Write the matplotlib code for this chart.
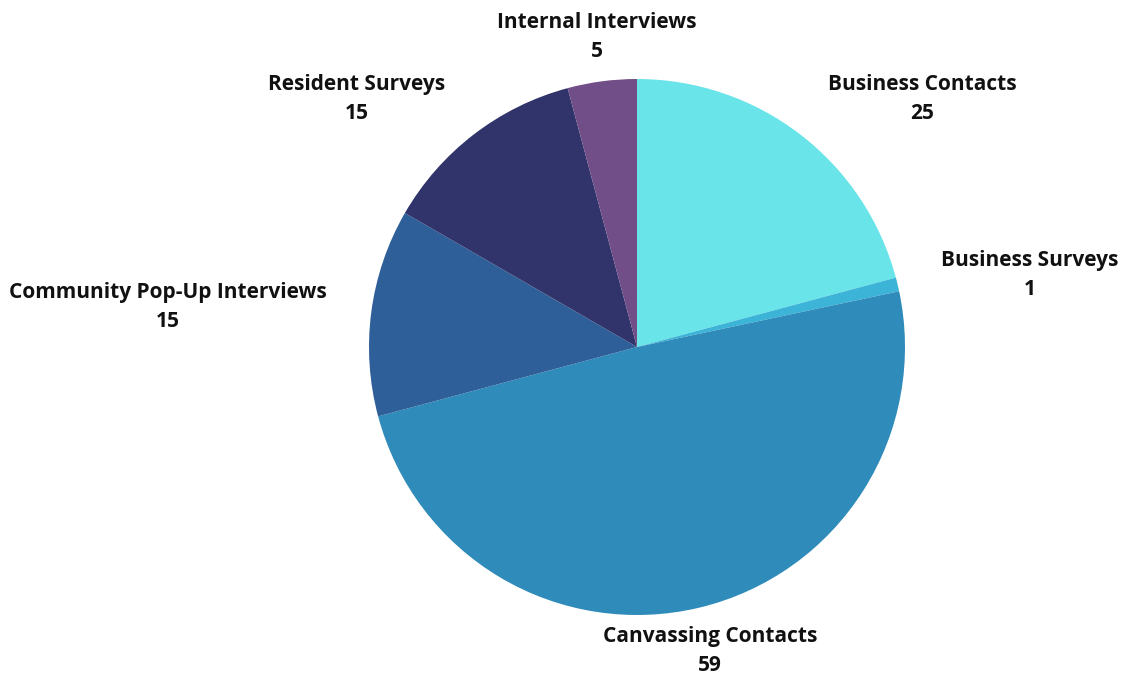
import matplotlib.pyplot as plt

labels = ['Business Contacts', 'Business Surveys', 'Canvassing Contacts',
          'Community Pop-Up Interviews', 'Resident Surveys', 'Internal Interviews']
values = [25, 1, 59, 15, 15, 5]
colors = ['#69e4e8', '#3bb4d8', '#2e8bba', '#2e5f98', '#31346b', '#714e87']

# label centres in pixels (x, y from top) of the 1122x673 canvas
label_pos = [(922, 99), (1030, 275), (710, 651), (168, 307), (357, 99), (597, 37)]

W, H = 1122, 673
cx, cy, R = 637, 347, 268

fig = plt.figure(figsize=(W / 100, H / 100), dpi=100)
ax = fig.add_axes([0, 0, 1, 1])
ax.pie(values, colors=colors, startangle=90, counterclock=False, radius=1,
       wedgeprops=dict(linewidth=0))
ax.set_xlim(-cx / R, (W - cx) / R)
ax.set_ylim(-(H - cy) / R, cy / R)
ax.set_aspect('equal')
ax.axis('off')

for lab, val, (px, py) in zip(labels, values, label_pos):
    ax.text((px - cx) / R, (cy - py) / R, f'{lab}\n{val}', ha='center', va='center',
            fontsize=15, fontweight='bold', family='Open Sans', color='#111111',
            linespacing=1.5)

fig.savefig('out.png', dpi=100, facecolor='white')
